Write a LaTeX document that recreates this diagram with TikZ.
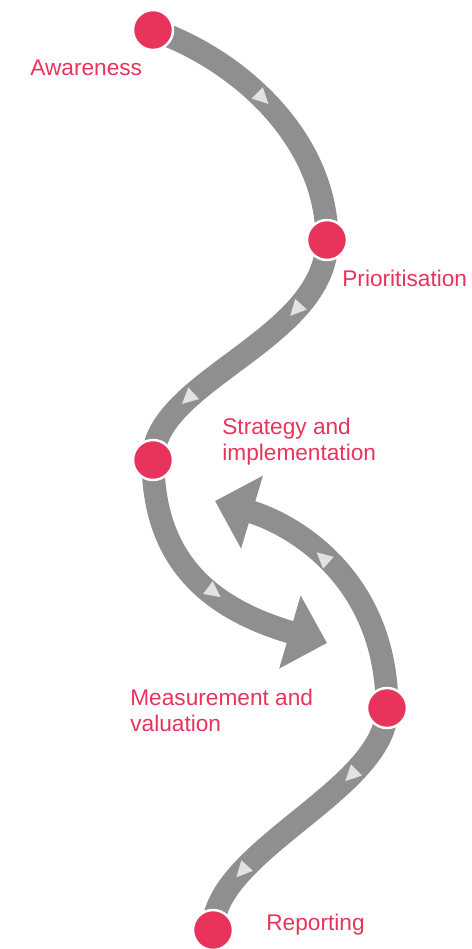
\documentclass[tikz,border=0pt]{standalone}
\usepackage{fontspec}
\setmainfont{Liberation Sans}
\usetikzlibrary{arrows.meta,decorations.markings,backgrounds}
\definecolor{stagered}{HTML}{E8335C}
\definecolor{ribbongray}{HTML}{8F8F8F}
\definecolor{tickgray}{HTML}{E2E2E2}
\tikzset{
  stagedot/.style={circle,fill=stagered,draw=white,line width=1.4pt,minimum size=0.8cm,inner sep=0pt},
  stagelabel/.style={anchor=base west,text=stagered,font=\fontsize{12.9}{14.7}\selectfont,align=left,inner sep=0pt},
  ribbon/.style={ribbongray,line width=13pt},
  flowtick/.style={postaction={decorate,decoration={markings,mark=at position #1 with {\fill[tickgray] (-4.5pt,-4.5pt) -- (4.5pt,0pt) -- (-4.5pt,4.5pt) -- cycle;}}}},
  flowhead/.style={-{Triangle[length=22pt,width=42pt]}}
}
\begin{document}
\begin{tikzpicture}[x=0.02cm,y=-0.02cm]
    \useasboundingbox (0,0) rectangle (471,949);
    \node[stagedot] (aw) at (153,30) {};
    \node[stagedot] (pr) at (327,240) {};
    \node[stagedot] (st) at (153,460) {};
    \node[stagedot] (ms) at (387,708) {};
    \node[stagedot] (rp) at (213,930) {};
    \coordinate (mtip) at (327,643);
    \coordinate (stip) at (215,501);
    \node[stagelabel] (awl) at (30,76) {Awareness};
    \node[stagelabel] (prl) at (342,287) {Prioritisation};
    \node[stagelabel] (stl) at (222,460) {Strategy and\\implementation};
    \node[stagelabel] (msl) at (130,731) {Measurement and\\valuation};
    \node[stagelabel] (rpl) at (266,930) {Reporting};
    \begin{scope}[on background layer]
    \draw[ribbon,flowtick=0.45] (aw.center) .. controls (240,60) and (327,140) .. (pr.center);
    \draw[ribbon,flowtick=0.27,flowtick=0.75] (pr.center) .. controls (327,340) and (153,380) .. (st.center);
    \draw[ribbon,flowhead,flowtick=0.55] (st.center) .. controls (153,565) and (215,610) .. (mtip);
    \draw[ribbon,flowhead,flowtick=0.58] (ms.center) .. controls (387,580) and (295,525) .. (stip);
    \draw[ribbon,flowtick=0.27,flowtick=0.77] (ms.center) .. controls (387,790) and (213,850) .. (rp.center);
    \end{scope}
\end{tikzpicture}
\end{document}
